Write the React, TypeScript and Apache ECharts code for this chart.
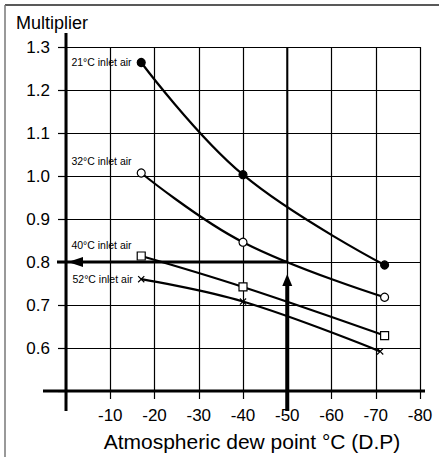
import React, { useEffect, useRef } from "react";
import * as echarts from "echarts";

// Atmospheric dew point (°C) readings for each curve
const dewPoints = [-17, -40, -72];
const dewPoints52 = [-17, -40, -71];
// Multiplier values
const inlet21 = [1.264, 1.003, 0.793];
const inlet32 = [1.007, 0.846, 0.718];
const inlet40 = [0.814, 0.742, 0.629];
const inlet52 = [0.76, 0.708, 0.592];
const seriesNames = ["21°C inlet air", "32°C inlet air", "40°C inlet air", "52°C inlet air"];
// Reading example: dew point -50 -> multiplier 0.8
const exampleDewPoint = -50;
const exampleMultiplier = 0.8;

const xMin = -80, xMax = 0, xStep = 10;
const yMin = 0.5, yMax = 1.3, yStep = 0.1;

const FONT = "'Liberation Sans', Arial, sans-serif";

const crossPath =
  "path://M0,1.2L1.2,0L5,3.8L8.8,0L10,1.2L6.2,5L10,8.8L8.8,10L5,6.2L1.2,10L0,8.8L3.8,5Z";

export default function App() {
  const ref = useRef<HTMLDivElement>(null);

  useEffect(() => {
    if (!ref.current) return;
    const chart = echarts.init(ref.current, null, { renderer: "svg" });

    const zip = (xs: number[], ys: number[]) => xs.map((x, i) => [x, ys[i]]);
    const mkSeries = (
      name: string,
      xs: number[],
      ys: number[],
      symbol: string,
      size: number,
      fill: string,
      labelOffset: number[]
    ) => ({
      name,
      type: "line",
      smooth: 0.4,
      data: zip(xs, ys).map((d, i) =>
        i === 0
          ? {
              value: d,
              label: {
                show: true,
                formatter: name,
                position: "left",
                distance: 5,
                offset: labelOffset,
                fontFamily: FONT,
                fontSize: 10.5,
                color: "#000",
              },
            }
          : { value: d }
      ),
      symbol,
      symbolSize: size,
      showAllSymbol: true,
      lineStyle: { color: "#000", width: 2.2 },
      itemStyle: { color: fill, borderColor: "#000", borderWidth: symbol === crossPath ? 0 : 1.2 },
      z: 5,
    });

    chart.setOption({
      animation: false,
      backgroundColor: "#fff",
      title: {
        text: "Multiplier",
        left: 11,
        top: 9,
        textStyle: { fontFamily: FONT, fontSize: 18, fontWeight: "normal", color: "#000" },
      },
      grid: { left: 66, right: 19, top: 47, bottom: 65 },
      xAxis: {
        type: "value",
        inverse: true,
        min: xMin,
        max: xMax,
        interval: xStep,
        name: "Atmospheric dew point °C (D.P)",
        nameLocation: "middle",
        nameGap: 40,
        nameTextStyle: { fontFamily: FONT, fontSize: 21, color: "#000", padding: [0, 0, 0, 18] },
        axisLine: { show: false },
        axisTick: { show: true, length: 8, lineStyle: { color: "#000", width: 1.2 } },
        axisLabel: {
          fontFamily: FONT,
          fontSize: 17,
          color: "#000",
          margin: 16,
          formatter: (v: number) => (v === 0 ? "" : String(v)),
        },
        splitLine: { show: true, lineStyle: { color: "#000", width: 1.2 } },
      },
      yAxis: {
        type: "value",
        min: yMin,
        max: yMax,
        interval: yStep,
        axisLine: { show: false },
        axisTick: { show: true, length: 8, lineStyle: { color: "#000", width: 1.2 } },
        axisLabel: {
          fontFamily: FONT,
          fontSize: 17,
          color: "#000",
          margin: 16,
          formatter: (v: number) => (Math.abs(v - 0.5) < 1e-6 ? "" : v.toFixed(1)),
        },
        splitLine: { show: true, lineStyle: { color: "#000", width: 1.2 } },
      },
      series: [
        mkSeries(seriesNames[0], dewPoints, inlet21, "circle", 8, "#000", [0, 0]),
        mkSeries(seriesNames[1], dewPoints, inlet32, "circle", 8, "#fff", [0, -12]),
        mkSeries(seriesNames[2], dewPoints, inlet40, "rect", 8, "#fff", [0, -11]),
        mkSeries(seriesNames[3], dewPoints52, inlet52, crossPath, 7, "#000", [0, 0]),
      ],
    });

    const px = (x: number, y: number) =>
      chart.convertToPixel({ gridIndex: 0 }, [x, y]) as number[];
    const origin = px(0, yMin);
    const topLeft = px(0, yMax);
    const farRight = px(xMin, yMin);
    const ex = px(exampleDewPoint, exampleMultiplier);
    const exTop = px(exampleDewPoint, yMax);
    const axisX = origin[0];
    const axisBottom = origin[1] + 20;
    const black = { stroke: "#000" };

    chart.setOption({
      graphic: [
        // outer frame (top & left)
        { type: "line", shape: { x1: 5, y1: 5, x2: 439, y2: 5 }, style: { stroke: "#222", lineWidth: 1.5 } },
        { type: "line", shape: { x1: 5, y1: 5, x2: 5, y2: 457 }, style: { stroke: "#777", lineWidth: 1.5 } },
        // y axis line
        { type: "line", shape: { x1: axisX, y1: topLeft[1] - 14, x2: axisX, y2: axisBottom }, style: { ...black, lineWidth: 3 }, z: 10 },
        // x axis line
        { type: "line", shape: { x1: axisX - 23, y1: origin[1], x2: farRight[0] + 5, y2: origin[1] }, style: { ...black, lineWidth: 3 }, z: 10 },
        // emphasized -50 grid line
        { type: "line", shape: { x1: ex[0], y1: exTop[1], x2: ex[0], y2: ex[1] }, style: { ...black, lineWidth: 2 }, z: 10 },
        // horizontal reading arrow
        { type: "line", shape: { x1: ex[0], y1: ex[1], x2: axisX - 9, y2: ex[1] }, style: { ...black, lineWidth: 3 }, z: 10 },
        {
          type: "polygon",
          shape: { points: [[axisX + 2, ex[1]], [axisX + 17, ex[1] - 5], [axisX + 17, ex[1] + 5]] },
          style: { fill: "#000" },
          z: 10,
        },
        // vertical reading arrow
        { type: "line", shape: { x1: ex[0], y1: ex[1] + 20, x2: ex[0], y2: axisBottom }, style: { ...black, lineWidth: 4 }, z: 10 },
        {
          type: "polygon",
          shape: { points: [[ex[0], ex[1] + 12], [ex[0] - 5, ex[1] + 24], [ex[0] + 5, ex[1] + 24]] },
          style: { fill: "#000" },
          z: 10,
        },
      ],
    });

    return () => chart.dispose();
  }, []);

  return (
    <div
      ref={ref}
      style={{ position: "fixed", left: 0, top: 0, width: 439, height: 457, background: "#fff" }}
    />
  );
}
